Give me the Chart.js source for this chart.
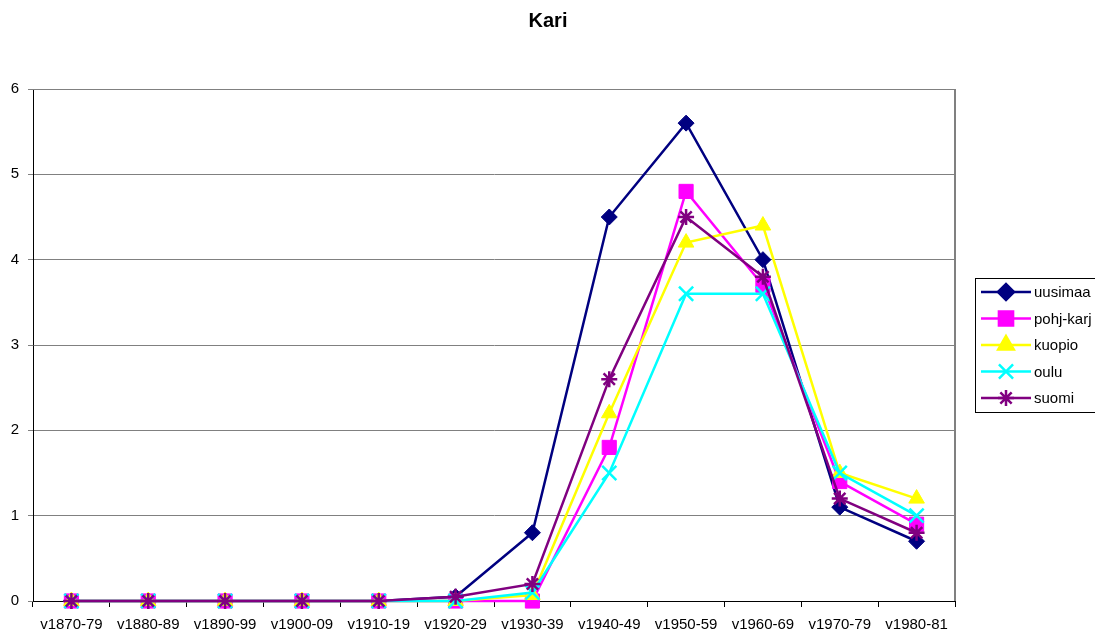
<!DOCTYPE html>
<html>
<head>
<meta charset="utf-8">
<script src="https://cdn.jsdelivr.net/npm/chart.js@4/dist/chart.umd.min.js"></script>
<style>
  body { margin: 0; background: #fff; }
  canvas { display: block; }
</style>
</head>
<body>
<canvas id="line-chart" width="1095" height="629"></canvas>
<script>
const decades = ['v1870-79', 'v1880-89', 'v1890-99', 'v1900-09', 'v1910-19', 'v1920-29',
                 'v1930-39', 'v1940-49', 'v1950-59', 'v1960-69', 'v1970-79', 'v1980-81'];
const uusimaa  = [0, 0, 0, 0, 0, 0.05, 0.8, 4.5, 5.6, 4.0, 1.1, 0.7];
const pohjKarj = [0, 0, 0, 0, 0, 0, 0, 1.8, 4.8, 3.7, 1.4, 0.9];
const kuopio   = [0, 0, 0, 0, 0, 0, 0.07, 2.2, 4.2, 4.4, 1.5, 1.2];
const oulu     = [0, 0, 0, 0, 0, 0, 0.1, 1.5, 3.6, 3.6, 1.5, 1.0];
const suomi    = [0, 0, 0, 0, 0, 0.05, 0.2, 2.6, 4.5, 3.8, 1.2, 0.8];
const yTicks   = [0, 1, 2, 3, 4, 5, 6];
const chartTitle = 'Kari';

const FONT = '"Liberation Sans", Arial, sans-serif';

// later series are drawn on top, as in the original
function series(label, data, color, style, r, order) {
    return {
        label: label, data: data, order: order, clip: false,
        borderColor: color, backgroundColor: color,
        borderWidth: 2.5, pointStyle: style, pointRadius: r,
        pointBorderWidth: style === 'crossRot' || style === 'star' ? 2.5 : 1,
        pointHoverRadius: r, tension: 0
    };
}

// title, plot frame and legend box drawn like the original
const extras = {
    id: 'extras',
    afterDraw(chart) {
        const c = chart.ctx, a = chart.chartArea;
        c.save();
        c.fillStyle = '#000';
        c.font = 'bold 20px ' + FONT;
        c.textAlign = 'center';
        c.textBaseline = 'middle';
        c.fillText(chartTitle, 548, 21);

        c.strokeStyle = '#808080';
        c.lineWidth = 1;
        c.beginPath();
        c.moveTo(a.left, a.top + 0.5);
        c.lineTo(a.right, a.top + 0.5);
        c.stroke();
        c.lineWidth = 2;
        c.beginPath();
        c.moveTo(a.right, a.top);
        c.lineTo(a.right, a.bottom);
        c.stroke();

        // legend
        c.lineWidth = 1;
        c.strokeStyle = '#000';
        c.strokeRect(975.5, 278.5, 125, 134);
        c.font = '15px ' + FONT;
        c.textAlign = 'left';
        chart.data.datasets.forEach((ds, i) => {
            const y = 292 + i * 26.5;
            c.strokeStyle = ds.borderColor;
            c.lineWidth = 2.5;
            c.beginPath();
            c.moveTo(981, y);
            c.lineTo(1031, y);
            c.stroke();
            c.fillStyle = ds.backgroundColor;
            Chart.helpers.drawPoint(c, {
                pointStyle: ds.pointStyle, radius: ds.pointRadius, borderWidth: ds.pointBorderWidth
            }, 1006, y);
            c.fillStyle = '#000';
            c.fillText(ds.label, 1034, y + 1);
        });
        c.restore();
    }
};

const ctx = document.getElementById('line-chart').getContext('2d');
const myChart = new Chart(ctx, {
    type: 'line',
    data: {
        labels: decades,
        datasets: [
            series('uusimaa', uusimaa, '#000080', 'rectRot', 8, 5),
            series('pohj-karj', pohjKarj, '#FF00FF', 'rect', 10, 4),
            series('kuopio', kuopio, '#FFFF00', 'triangle', 9, 3),
            series('oulu', oulu, '#00FFFF', 'crossRot', 10, 2),
            series('suomi', suomi, '#800080', 'star', 8, 1)
        ]
    },
    options: {
        responsive: false,
        animation: false,
        layout: {padding: {top: 89, right: 140, left: 0, bottom: 0}},
        plugins: {
            legend: {display: false},
            tooltip: {enabled: false},
            title: {display: false}
        },
        scales: {
            x: {
                offset: true,
                grid: {offset: true, drawOnChartArea: false, drawTicks: true, tickLength: 6, color: '#000'},
                border: {color: '#000', width: 1},
                ticks: {
                    color: '#000', maxRotation: 0, autoSkip: false, padding: 9,
                    font: {family: FONT, size: 15}
                },
                afterFit(scale) { scale.height = 28; }
            },
            y: {
                min: 0, max: 6,
                afterBuildTicks(scale) { scale.ticks = yTicks.map(v => ({value: v})); },
                grid: {color: '#808080', drawTicks: true, tickLength: 5},
                border: {color: '#000', width: 1},
                ticks: {
                    color: '#000', padding: 9,
                    font: {family: FONT, size: 15}
                },
                afterFit(scale) { scale.width = 33; }
            }
        }
    },
    plugins: [extras]
});
</script>
</body>
</html>
